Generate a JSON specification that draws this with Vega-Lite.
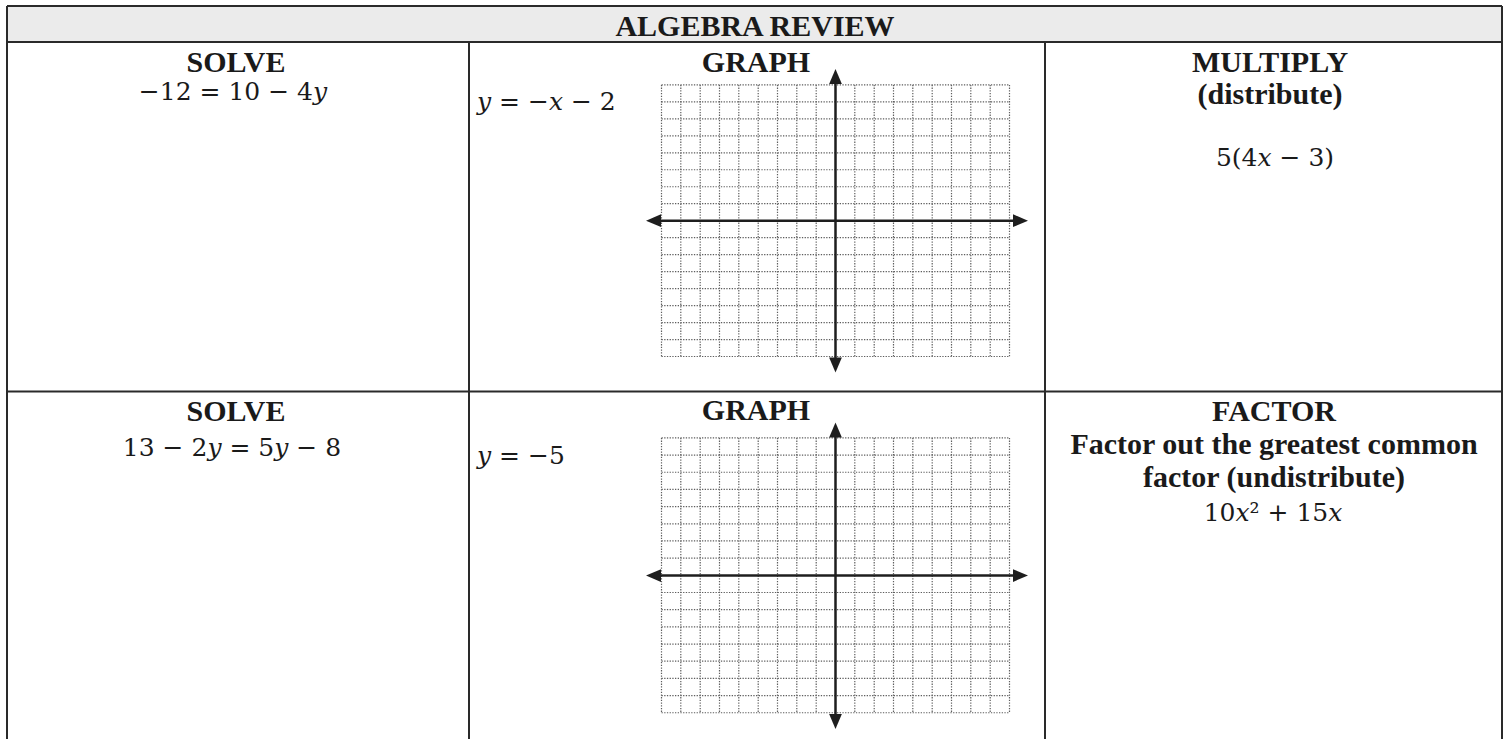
{
  "$schema": "https://vega.github.io/schema/vega-lite/v6.json",
  "width": 1507,
  "height": 740,
  "autosize": {"type": "fit", "contains": "padding"},
  "padding": 0,
  "background": "white",
  "config": {"view": {"stroke": null}},
  "datasets": {
    "header": [{"x": 7, "x2": 1502, "y": 6, "y2": 42}],
    "table": [
      {"x": 7, "x2": 1502, "y": 6, "y2": 6},
      {"x": 7, "x2": 1502, "y": 42, "y2": 42},
      {"x": 7, "x2": 1502, "y": 392, "y2": 392},
      {"x": 7, "x2": 7, "y": 6, "y2": 740},
      {"x": 1502, "x2": 1502, "y": 6, "y2": 740},
      {"x": 469, "x2": 469, "y": 42, "y2": 740},
      {"x": 1045, "x2": 1045, "y": 42, "y2": 740}
    ],
    "grid": [
      {"x": 661.5, "x2": 661.5, "y": 85, "y2": 357},
      {"x": 680.8, "x2": 680.8, "y": 85, "y2": 357},
      {"x": 700.2, "x2": 700.2, "y": 85, "y2": 357},
      {"x": 719.5, "x2": 719.5, "y": 85, "y2": 357},
      {"x": 738.8, "x2": 738.8, "y": 85, "y2": 357},
      {"x": 758.2, "x2": 758.2, "y": 85, "y2": 357},
      {"x": 777.5, "x2": 777.5, "y": 85, "y2": 357},
      {"x": 796.8, "x2": 796.8, "y": 85, "y2": 357},
      {"x": 816.2, "x2": 816.2, "y": 85, "y2": 357},
      {"x": 854.8, "x2": 854.8, "y": 85, "y2": 357},
      {"x": 874.2, "x2": 874.2, "y": 85, "y2": 357},
      {"x": 893.5, "x2": 893.5, "y": 85, "y2": 357},
      {"x": 912.8, "x2": 912.8, "y": 85, "y2": 357},
      {"x": 932.2, "x2": 932.2, "y": 85, "y2": 357},
      {"x": 951.5, "x2": 951.5, "y": 85, "y2": 357},
      {"x": 970.8, "x2": 970.8, "y": 85, "y2": 357},
      {"x": 990.2, "x2": 990.2, "y": 85, "y2": 357},
      {"x": 1009.5, "x2": 1009.5, "y": 85, "y2": 357},
      {"x": 661.5, "x2": 1009.5, "y": 85, "y2": 85},
      {"x": 661.5, "x2": 1009.5, "y": 102, "y2": 102},
      {"x": 661.5, "x2": 1009.5, "y": 119, "y2": 119},
      {"x": 661.5, "x2": 1009.5, "y": 136, "y2": 136},
      {"x": 661.5, "x2": 1009.5, "y": 153, "y2": 153},
      {"x": 661.5, "x2": 1009.5, "y": 170, "y2": 170},
      {"x": 661.5, "x2": 1009.5, "y": 187, "y2": 187},
      {"x": 661.5, "x2": 1009.5, "y": 204, "y2": 204},
      {"x": 661.5, "x2": 1009.5, "y": 238, "y2": 238},
      {"x": 661.5, "x2": 1009.5, "y": 255, "y2": 255},
      {"x": 661.5, "x2": 1009.5, "y": 272, "y2": 272},
      {"x": 661.5, "x2": 1009.5, "y": 289, "y2": 289},
      {"x": 661.5, "x2": 1009.5, "y": 306, "y2": 306},
      {"x": 661.5, "x2": 1009.5, "y": 323, "y2": 323},
      {"x": 661.5, "x2": 1009.5, "y": 340, "y2": 340},
      {"x": 661.5, "x2": 1009.5, "y": 357, "y2": 357},
      {"x": 661.5, "x2": 661.5, "y": 438.5, "y2": 713.7},
      {"x": 680.8, "x2": 680.8, "y": 438.5, "y2": 713.7},
      {"x": 700.2, "x2": 700.2, "y": 438.5, "y2": 713.7},
      {"x": 719.5, "x2": 719.5, "y": 438.5, "y2": 713.7},
      {"x": 738.8, "x2": 738.8, "y": 438.5, "y2": 713.7},
      {"x": 758.2, "x2": 758.2, "y": 438.5, "y2": 713.7},
      {"x": 777.5, "x2": 777.5, "y": 438.5, "y2": 713.7},
      {"x": 796.8, "x2": 796.8, "y": 438.5, "y2": 713.7},
      {"x": 816.2, "x2": 816.2, "y": 438.5, "y2": 713.7},
      {"x": 854.8, "x2": 854.8, "y": 438.5, "y2": 713.7},
      {"x": 874.2, "x2": 874.2, "y": 438.5, "y2": 713.7},
      {"x": 893.5, "x2": 893.5, "y": 438.5, "y2": 713.7},
      {"x": 912.8, "x2": 912.8, "y": 438.5, "y2": 713.7},
      {"x": 932.2, "x2": 932.2, "y": 438.5, "y2": 713.7},
      {"x": 951.5, "x2": 951.5, "y": 438.5, "y2": 713.7},
      {"x": 970.8, "x2": 970.8, "y": 438.5, "y2": 713.7},
      {"x": 990.2, "x2": 990.2, "y": 438.5, "y2": 713.7},
      {"x": 1009.5, "x2": 1009.5, "y": 438.5, "y2": 713.7},
      {"x": 661.5, "x2": 1009.5, "y": 438.5, "y2": 438.5},
      {"x": 661.5, "x2": 1009.5, "y": 455.7, "y2": 455.7},
      {"x": 661.5, "x2": 1009.5, "y": 472.9, "y2": 472.9},
      {"x": 661.5, "x2": 1009.5, "y": 490.1, "y2": 490.1},
      {"x": 661.5, "x2": 1009.5, "y": 507.3, "y2": 507.3},
      {"x": 661.5, "x2": 1009.5, "y": 524.5, "y2": 524.5},
      {"x": 661.5, "x2": 1009.5, "y": 541.7, "y2": 541.7},
      {"x": 661.5, "x2": 1009.5, "y": 558.9, "y2": 558.9},
      {"x": 661.5, "x2": 1009.5, "y": 593.3, "y2": 593.3},
      {"x": 661.5, "x2": 1009.5, "y": 610.5, "y2": 610.5},
      {"x": 661.5, "x2": 1009.5, "y": 627.7, "y2": 627.7},
      {"x": 661.5, "x2": 1009.5, "y": 644.9, "y2": 644.9},
      {"x": 661.5, "x2": 1009.5, "y": 662.1, "y2": 662.1},
      {"x": 661.5, "x2": 1009.5, "y": 679.3, "y2": 679.3},
      {"x": 661.5, "x2": 1009.5, "y": 696.5, "y2": 696.5},
      {"x": 661.5, "x2": 1009.5, "y": 713.7, "y2": 713.7}
    ],
    "axes": [
      {"x": 835.5, "x2": 835.5, "y": 76, "y2": 366},
      {"x": 653, "x2": 1021, "y": 221, "y2": 221},
      {"x": 835.5, "x2": 835.5, "y": 430, "y2": 723},
      {"x": 653, "x2": 1021, "y": 576.3, "y2": 576.3}
    ],
    "arrows": [
      {"x": 835.5, "y": 76.5, "shape": "M0,-1L-0.85,1L0.85,1Z"},
      {"x": 835.5, "y": 365.5, "shape": "M0,1L-0.85,-1L0.85,-1Z"},
      {"x": 653.5, "y": 221, "shape": "M-1,0L1,-0.85L1,0.85Z"},
      {"x": 1020.5, "y": 221, "shape": "M1,0L-1,-0.85L-1,0.85Z"},
      {"x": 835.5, "y": 430.5, "shape": "M0,-1L-0.85,1L0.85,1Z"},
      {"x": 835.5, "y": 722.5, "shape": "M0,1L-0.85,-1L0.85,-1Z"},
      {"x": 653.5, "y": 576.3, "shape": "M-1,0L1,-0.85L1,0.85Z"},
      {"x": 1020.5, "y": 576.3, "shape": "M1,0L-1,-0.85L-1,0.85Z"}
    ],
    "bold": [
      {"t": "ALGEBRA REVIEW", "x": 755, "y": 36},
      {"t": "SOLVE", "x": 236, "y": 72},
      {"t": "GRAPH", "x": 756, "y": 72},
      {"t": "MULTIPLY", "x": 1270, "y": 72},
      {"t": "(distribute)", "x": 1270, "y": 104},
      {"t": "SOLVE", "x": 236, "y": 422},
      {"t": "GRAPH", "x": 756, "y": 421},
      {"t": "FACTOR", "x": 1274, "y": 422},
      {"t": "Factor out the greatest common", "x": 1274, "y": 455},
      {"t": "factor (undistribute)", "x": 1274, "y": 488}
    ],
    "mathc": [
      {"t": "−12 = 10 − 4𝑦", "x": 233, "y": 100},
      {"t": "5(4𝑥 − 3)", "x": 1275, "y": 166},
      {"t": "13 − 2𝑦 = 5𝑦 − 8", "x": 232, "y": 457},
      {"t": "10𝑥² + 15𝑥", "x": 1273, "y": 522}
    ],
    "mathl": [
      {"t": "𝑦 = −𝑥 − 2", "x": 477, "y": 110},
      {"t": "𝑦 = −5", "x": 477, "y": 465}
    ]
  },
  "layer": [
    {
      "data": {"name": "header"},
      "mark": {"type": "rect", "color": "#ebebeb"},
      "encoding": {
        "x": {"field": "x", "type": "quantitative", "scale": {"domain": [0, 1507], "nice": false, "zero": false}, "axis": null},
        "x2": {"field": "x2"},
        "y": {"field": "y", "type": "quantitative", "scale": {"domain": [0, 740], "nice": false, "zero": false, "reverse": true}, "axis": null},
        "y2": {"field": "y2"}
      }
    },
    {
      "data": {"name": "grid"},
      "mark": {"type": "rule", "color": "#5e5e5e", "strokeWidth": 1.2, "strokeDash": [1.3, 1.4]},
      "encoding": {
        "x": {"field": "x", "type": "quantitative"},
        "x2": {"field": "x2"},
        "y": {"field": "y", "type": "quantitative"},
        "y2": {"field": "y2"}
      }
    },
    {
      "data": {"name": "axes"},
      "mark": {"type": "rule", "color": "#1e1e1e", "strokeWidth": 2.5},
      "encoding": {
        "x": {"field": "x", "type": "quantitative"},
        "x2": {"field": "x2"},
        "y": {"field": "y", "type": "quantitative"},
        "y2": {"field": "y2"}
      }
    },
    {
      "data": {"name": "arrows"},
      "mark": {"type": "point", "filled": true, "color": "#1e1e1e", "opacity": 1, "size": 225, "strokeWidth": 0},
      "encoding": {
        "x": {"field": "x", "type": "quantitative"},
        "y": {"field": "y", "type": "quantitative"},
        "shape": {"field": "shape", "type": "nominal", "scale": null}
      }
    },
    {
      "data": {"name": "table"},
      "mark": {"type": "rule", "color": "#2a2a2a", "strokeWidth": 2},
      "encoding": {
        "x": {"field": "x", "type": "quantitative"},
        "x2": {"field": "x2"},
        "y": {"field": "y", "type": "quantitative"},
        "y2": {"field": "y2"}
      }
    },
    {
      "data": {"name": "bold"},
      "mark": {"type": "text", "font": "Liberation Serif", "fontWeight": "bold", "fontSize": 30, "align": "center", "baseline": "alphabetic", "color": "#1a1a1a"},
      "encoding": {
        "x": {"field": "x", "type": "quantitative"},
        "y": {"field": "y", "type": "quantitative"},
        "text": {"field": "t"}
      }
    },
    {
      "data": {"name": "mathc"},
      "mark": {"type": "text", "font": "DejaVu Serif", "fontSize": 25, "align": "center", "baseline": "alphabetic", "color": "#1a1a1a"},
      "encoding": {
        "x": {"field": "x", "type": "quantitative"},
        "y": {"field": "y", "type": "quantitative"},
        "text": {"field": "t"}
      }
    },
    {
      "data": {"name": "mathl"},
      "mark": {"type": "text", "font": "DejaVu Serif", "fontSize": 25, "align": "left", "baseline": "alphabetic", "color": "#1a1a1a"},
      "encoding": {
        "x": {"field": "x", "type": "quantitative"},
        "y": {"field": "y", "type": "quantitative"},
        "text": {"field": "t"}
      }
    }
  ]
}
